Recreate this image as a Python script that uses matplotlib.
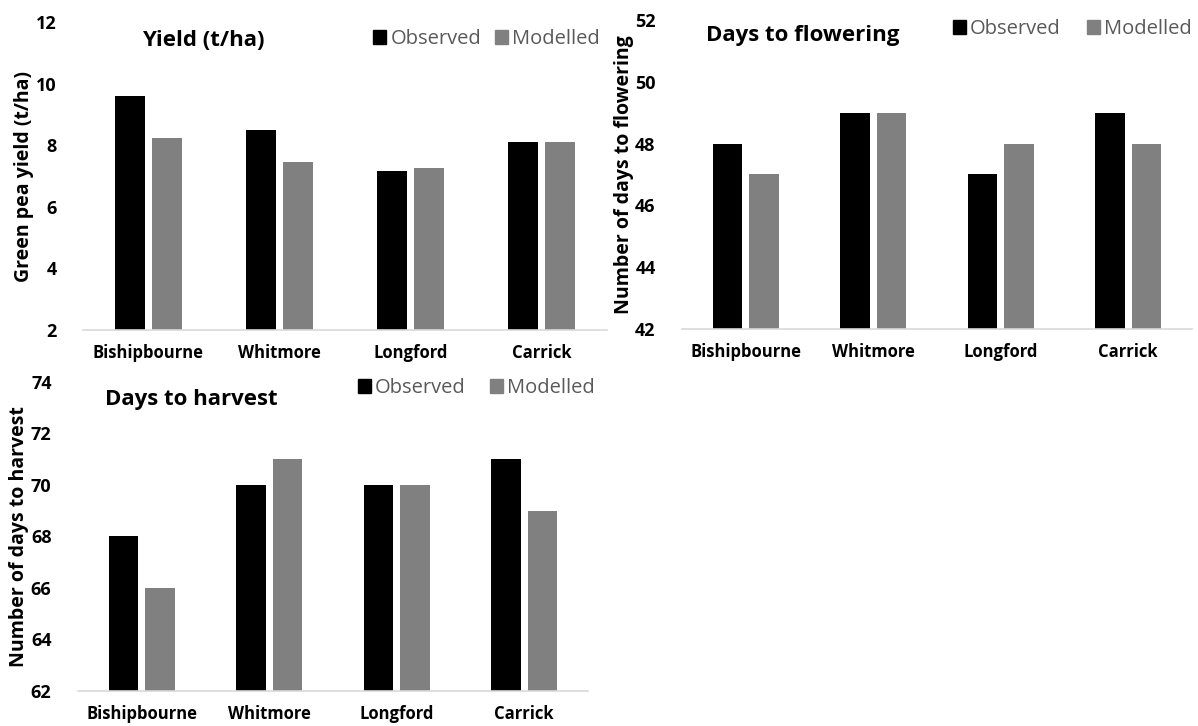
import numpy as np
import matplotlib
matplotlib.use("Agg")
import matplotlib.pyplot as plt
from matplotlib.patches import Patch

plt.rcParams['font.family'] = ['Open Sans', 'DejaVu Sans']

sites = ["Bishipbourne", "Whitmore", "Longford", "Carrick"]

yield_obs = [9.6, 8.5, 7.15, 8.1]
yield_mod = [8.25, 7.45, 7.25, 8.1]

flower_obs = [48, 49, 47, 49]
flower_mod = [47, 49, 48, 48]

harvest_obs = [68, 70, 70, 71]
harvest_mod = [66, 71, 70, 69]

OBS_C = "#000000"
MOD_C = "#808080"
AX_C = "#d9d9d9"

W, H = 1198, 726
fig = plt.figure(figsize=(W / 100, H / 100), dpi=100)


def px(l, t, r, b):
    return [l / W, 1 - b / H, (r - l) / W, (b - t) / H]


def panel(rect, obs, mod, ylim, yticks, ylabel, title, tpos, lpos, colsp):
    ax = fig.add_axes(px(*rect))
    x = np.arange(len(sites))
    bw = 0.23
    ax.bar(x - 0.143, [v - ylim[0] for v in obs], bw, bottom=ylim[0], color=OBS_C)
    ax.bar(x + 0.143, [v - ylim[0] for v in mod], bw, bottom=ylim[0], color=MOD_C)
    ax.set_xlim(-0.5, len(sites) - 0.5)
    ax.set_ylim(*ylim)
    ax.set_yticks(yticks)
    ax.set_xticks(x)
    ax.set_xticklabels(sites, fontsize=12, fontweight="bold")
    for lab in ax.get_yticklabels():
        lab.set_fontsize(13)
        lab.set_fontweight("bold")
    ax.tick_params(length=0, pad=19)
    ax.tick_params(axis="x", pad=10)
    for s in ["top", "right", "left"]:
        ax.spines[s].set_visible(False)
    ax.spines["bottom"].set_color(AX_C)
    ax.spines["bottom"].set_linewidth(1.2)
    ax.set_ylabel(ylabel, fontsize=14, fontweight="bold", labelpad=1)
    fig.text(tpos[0] / W, 1 - tpos[1] / H, title, fontsize=16, fontweight="bold",
             ha="left", va="center")
    handles = [Patch(color=OBS_C, label="Observed"), Patch(color=MOD_C, label="Modelled")]
    leg = fig.legend(handles=handles, loc="center right", ncol=2, frameon=False,
                     bbox_to_anchor=(lpos[0] / W, 1 - lpos[1] / H),
                     fontsize=14.5, handlelength=0.65, handleheight=0.65,
                     handletextpad=0.2, columnspacing=colsp, borderaxespad=0, borderpad=0)
    for t in leg.get_texts():
        t.set_color("#595959")
    return ax


panel((83, 22, 607, 330), yield_obs, yield_mod, (2, 12), [2, 4, 6, 8, 10, 12],
      "Green pea yield (t/ha)", "Yield (t/ha)", (142, 40), (600, 39), 0.7)
panel((682, 20, 1192, 329), flower_obs, flower_mod, (42, 52), [42, 44, 46, 48, 50, 52],
      "Number of days to flowering", "Days to flowering", (706, 36), (1192, 29), 1.3)
panel((78, 382, 588, 691), harvest_obs, harvest_mod, (62, 74), [62, 64, 66, 68, 70, 72, 74],
      "Number of days to harvest", "Days to harvest", (105, 400), (595, 388), 1.2)

fig.savefig("out.png", dpi=100)
